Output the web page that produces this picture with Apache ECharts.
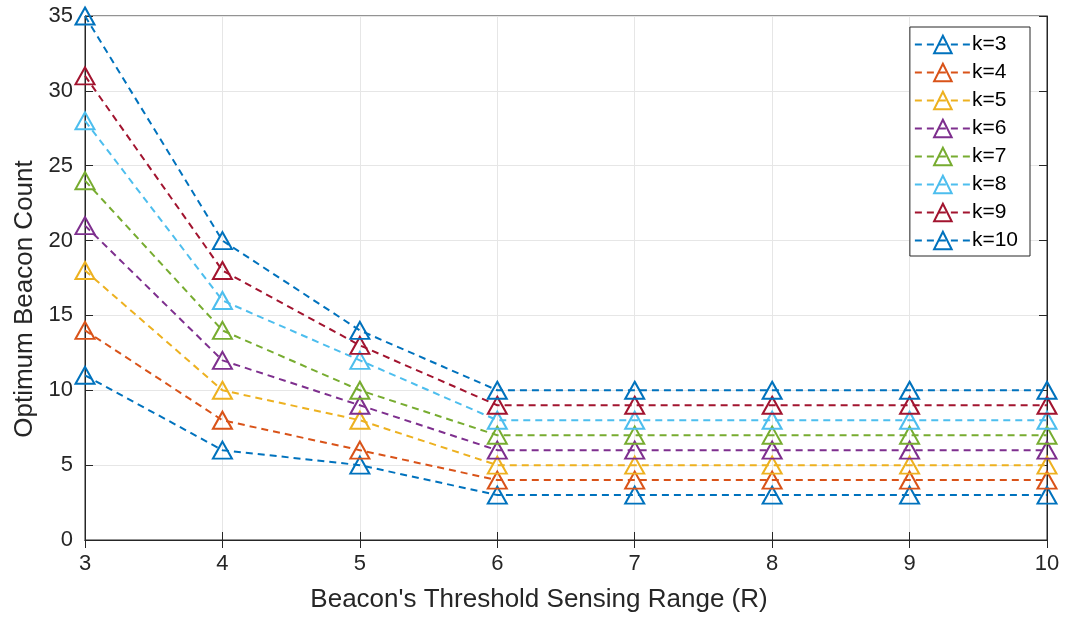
<!DOCTYPE html>
<html><head><meta charset="utf-8">
<script src="https://cdn.jsdelivr.net/npm/echarts@6/dist/echarts.min.js"></script>
<style>html,body{margin:0;padding:0;background:#fff}#c{width:1065px;height:618px}</style>
</head><body><div id="c"></div>
<script>
const xValues = [3, 4, 5, 6, 7, 8, 9, 10];
const seriesNames = ['k=3','k=4','k=5','k=6','k=7','k=8','k=9','k=10'];
const k3  = [11, 6, 5, 3, 3, 3, 3, 3];
const k4  = [14, 8, 6, 4, 4, 4, 4, 4];
const k5  = [18, 10, 8, 5, 5, 5, 5, 5];
const k6  = [21, 12, 9, 6, 6, 6, 6, 6];
const k7  = [24, 14, 10, 7, 7, 7, 7, 7];
const k8  = [28, 16, 12, 8, 8, 8, 8, 8];
const k9  = [31, 18, 13, 9, 9, 9, 9, 9];
const k10 = [35, 20, 14, 10, 10, 10, 10, 10];
const allValues = [k3, k4, k5, k6, k7, k8, k9, k10];
const colors = ['#0072BD','#D95319','#EDB120','#7E2F8E','#77AC30','#4DBEEE','#A2142F','#0072BD'];

const font = 'Liberation Sans, Arial, Helvetica, sans-serif';
const axisColor = '#262626';
const chart = echarts.init(document.getElementById('c'));
const series = allValues.map((vals, i) => ({
  name: seriesNames[i],
  type: 'line',
  data: vals.map((v, j) => [xValues[j], v]),
  symbol: 'triangle',
  symbolSize: [19, 17],
  showAllSymbol: true,
  lineStyle: { color: colors[i], width: 2, type: [7, 5] },
  itemStyle: { color: 'rgba(255,255,255,0)', borderColor: colors[i], borderWidth: 2 },
  emphasis: { disabled: true },
  animation: false,
  z: 3 + i
}));
chart.setOption({
  animation: false,
  grid: { left: 85, right: 18, top: 16, bottom: 76, show: true, borderColor: axisColor, borderWidth: 1, backgroundColor: '#fff' },
  legend: {
    orient: 'vertical', right: 35, top: 27,
    itemWidth: 56, itemHeight: 22, itemGap: 7,
    padding: [7, 12, 5, 4],
    borderColor: axisColor, borderWidth: 1, backgroundColor: '#fff',
    textStyle: { fontFamily: font, fontSize: 21, color: '#000', padding: [0, 0, 0, -4] },
    data: seriesNames
  },
  xAxis: [{
    type: 'value', min: 3, max: 10, interval: 1,
    name: "Beacon's Threshold Sensing Range (R)", nameLocation: 'middle', nameGap: 47,
    nameTextStyle: { fontFamily: font, fontSize: 26, color: axisColor, padding: [0, 54, 0, 0] },
    axisLine: { lineStyle: { color: axisColor } },
    axisTick: { inside: true, length: 8, lineStyle: { color: axisColor } },
    axisLabel: { fontFamily: font, fontSize: 22, color: axisColor, margin: 13 },
    splitLine: { show: true, lineStyle: { color: '#e6e6e6', width: 1 } }
  }, {
    type: 'value', min: 3, max: 10, interval: 1, position: 'top',
    axisLine: { show: true, lineStyle: { color: axisColor } },
    axisTick: { inside: true, length: 8, lineStyle: { color: axisColor } },
    axisLabel: { show: false }, splitLine: { show: false }
  }],
  yAxis: [{
    type: 'value', min: 0, max: 35, interval: 5,
    name: 'Optimum Beacon Count', nameLocation: 'middle', nameGap: 47,
    nameTextStyle: { fontFamily: font, fontSize: 26, color: axisColor, padding: [0, 42, 0, 0] },
    axisLine: { show: true, lineStyle: { color: axisColor } },
    axisTick: { show: true, inside: true, length: 8, lineStyle: { color: axisColor } },
    axisLabel: { fontFamily: font, fontSize: 22, color: axisColor, margin: 12 },
    splitLine: { show: true, lineStyle: { color: '#e6e6e6', width: 1 } }
  }, {
    type: 'value', min: 0, max: 35, interval: 5, position: 'right',
    axisLine: { show: true, lineStyle: { color: axisColor } },
    axisTick: { show: true, inside: true, length: 8, lineStyle: { color: axisColor } },
    axisLabel: { show: false }, splitLine: { show: false }
  }],
  series: series
});
</script></body></html>
